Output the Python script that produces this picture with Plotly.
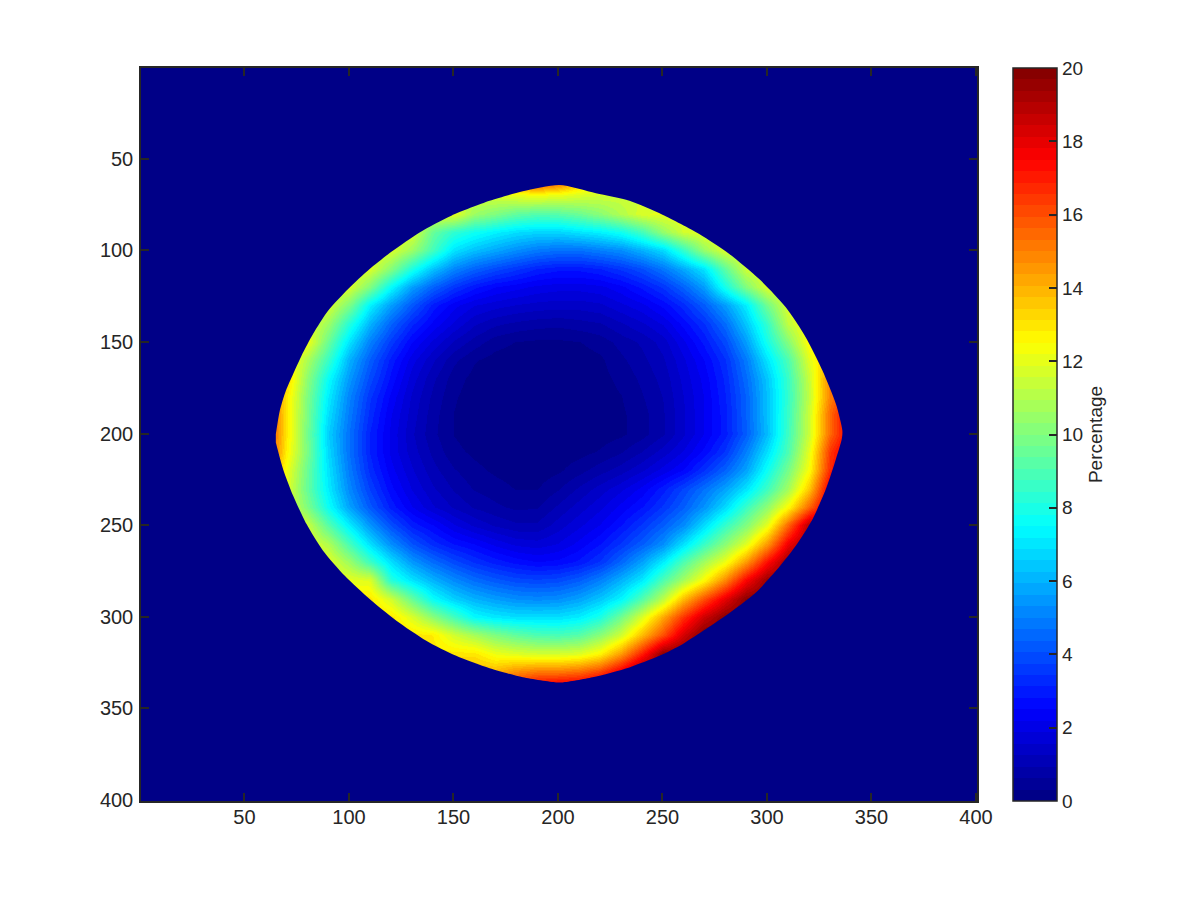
import plotly.graph_objects as go

# Values at a 10-unit spacing (percent); outside the outline each row carries its edge value on
x_samples = list(range(60, 350, 10))
y_samples = list(range(60, 350, 10))
z_rows = [
 [11.8,11.8,11.8,11.8,11.8,11.8,11.8,11.8,11.8,11.8,12.0,14.5,17,18,17,14.5,12.0,11.8,11.8,11.8,11.8,11.8,11.8,11.8,11.8,11.8,11.8,11.8,11.8],
 [11.5,11.5,11.5,11.5,11.5,11.5,11.5,11.5,11.5,11.5,11.6,11.8,12.1,12.3,12.1,11.8,11.6,11.5,11.5,11.5,11.5,11.5,11.5,11.5,11.5,11.5,11.5,11.5,11.5],
 [12,12,12,12,12,12,12,12,12,12,10.6,10,9.4,9.1,9.2,9.6,10.2,11,11.8,12,12,12,12,12,12,12,12,12,12],
 [12,12,12,12,12,12,12,11.8,9.5,8.4,7.8,7.3,6.9,6.7,6.7,7,7.3,7.8,8.8,10.4,11.6,12,12,12,12,12,12,12,12],
 [12,12,12,12,12,12,11.8,10.6,8.8,7,6.3,5.8,5.3,4.9,4.7,4.7,5,5.3,6,6.8,8.5,10.5,11.8,12,12,12,12,12,12],
 [12,12,12,12,12,11.8,10.1,8,6.3,5.1,4.4,3.9,3.5,3.1,2.9,2.9,3.1,3.5,4,4.8,5.8,7,9.3,11.5,12,12,12,12,12],
 [12,12,12,12,11.8,10,7.5,5.6,4.4,3.5,2.9,2.5,2.3,2.1,2,2,2.1,2.4,2.9,3.5,4.4,5.6,7.9,10,11.8,12,12,12,12],
 [12,12,12,11.8,10,7.3,5.6,4.2,3,2.3,1.9,1.7,1.55,1.45,1.4,1.4,1.5,1.8,2.1,2.6,3.3,4.3,5.6,7.2,9.7,11.8,12,12,12],
 [12,12,12,10.6,8.2,6,4.4,3.2,2.4,1.8,1.3,1,0.85,0.75,0.7,0.8,0.9,1.2,1.5,1.9,2.6,3.4,4.6,6.4,8.5,11.3,12.5,12.5,12.5],
 [12.3,12.3,12.3,9.6,7,5,3.6,2.5,1.8,1.2,0.8,0.45,0.3,0.25,0.25,0.3,0.45,0.75,1,1.4,2.1,2.9,3.9,5.6,7.9,10.1,12.6,13,13],
 [13,13,10.9,8.6,6,4.3,3,2,1.3,0.7,0.35,0.18,0.12,0.12,0.12,0.15,0.25,0.55,0.85,1.2,1.8,2.5,3.4,4.9,7,9,11.9,14,14],
 [14,13.5,10.3,7.6,5.5,3.9,2.7,1.7,1,0.45,0.2,0.1,0.1,0.1,0.1,0.12,0.2,0.4,0.7,1.05,1.65,2.3,3.2,4.6,6.4,8.6,11.4,15,15],
 [16,13,10,7.2,5.1,3.5,2.4,1.5,0.85,0.35,0.15,0.1,0.1,0.1,0.1,0.1,0.17,0.3,0.6,0.95,1.55,2.2,3.1,4.4,6.3,8.5,11.3,15,17],
 [17,13,9.9,6.9,4.9,3.3,2.2,1.4,0.75,0.3,0.12,0.1,0.1,0.1,0.1,0.1,0.13,0.25,0.5,0.9,1.5,2.2,3,4.4,6.3,8.6,11.5,15.5,18],
 [17,13,9.8,6.6,4.7,3.1,2.1,1.3,0.7,0.3,0.15,0.1,0.1,0.1,0.1,0.1,0.15,0.25,0.5,0.9,1.5,2.2,3,4.3,6.2,8.7,11.5,15.5,18],
 [17,12.8,9.9,6.8,4.7,3.1,2.1,1.4,0.85,0.4,0.25,0.15,0.1,0.1,0.12,0.2,0.35,0.6,0.95,1.4,1.9,2.6,3.5,5,6.9,9,12,16.5,18.5],
 [15.5,12.3,9.6,7,4.9,3.3,2.3,1.6,1.05,0.65,0.4,0.25,0.15,0.12,0.25,0.5,0.8,1.1,1.5,2,2.5,3.4,4.4,5.7,7.7,9.8,12.4,16.8,18.5],
 [13.5,12,9.5,7.2,5.2,3.7,2.6,1.85,1.3,0.9,0.6,0.45,0.3,0.3,0.6,1,1.4,1.8,2.3,3,3.8,4.7,5.7,7,8.7,10.7,13.6,18,18],
 [13,12,10,7.7,5.7,4.2,3,2.2,1.6,1.2,0.9,0.7,0.55,0.6,1,1.4,1.8,2.3,2.8,3.5,4.3,5.4,6.8,8.6,10.3,12.5,15.5,18.5,18.5],
 [12,12,11.5,9.2,7.2,5.4,4,3,2.5,1.9,1.5,1.2,1,1,1.4,1.8,2.2,2.8,3.5,4.3,5.2,6.8,8.5,10,12,15.5,19,19,19],
 [12,12,12,11,8.9,6.9,5.3,4.1,3.3,2.8,2.5,2.1,1.8,1.7,1.9,2.3,2.8,3.5,4.3,5.3,6.9,8.6,10.2,11.9,14.5,17.8,19.5,19.5,19.5],
 [12,12,12,12,10.6,8.7,6.9,5.5,4.6,3.9,3.4,3,2.7,2.5,2.6,2.9,3.5,4.5,5.7,7.2,9,10.7,12.2,14.5,17.3,19.5,19.5,19.5,19.5],
 [12,12,12,12,12,11.8,8.2,7,6,5.2,4.6,4.2,3.9,3.8,3.9,4.3,5,6,7.1,9,10.7,12.5,14.8,17.5,19.5,19.5,19.5,19.5,19.5],
 [13,13,13,13,13,13,11.6,9.5,7.6,6.6,6,5.6,5.3,5.2,5.3,5.7,6.4,7.4,9.1,11.2,13.8,16,18,19.8,20,20,20,20,20],
 [13,13,13,13,13,13,13,11.8,10.2,8.8,7.5,7.1,6.9,6.9,6.9,7.2,8,9.7,11.8,14.2,16.5,18.5,19.8,20,20,20,20,20,20],
 [13,13,13,13,13,13,13,13,12.8,11.6,10.8,10,9.4,9,8.9,9.2,10.2,11.6,13.8,16,18.3,20,20,20,20,20,20,20,20],
 [13,13,13,13,13,13,13,13,13,13,13,12.2,11.9,11.7,11.7,11.9,12.7,14.5,17,19.8,20,20,20,20,20,20,20,20,20],
 [14,14,14,14,14,14,14,14,14,14,14,14,14.8,15.2,15.2,15.5,16.3,18,20,20,20,20,20,20,20,20,20,20,20],
 [15,15,15,15,15,15,15,15,15,15,15,16,17.5,18.5,19,19,19.5,20,20,20,20,20,20,20,20,20,20,20,20],
]

# Outline of the non-zero region, clockwise on screen from the left tip
outline_x = [65,66.9,69.8,73.3,77.3,82.8,90,99.6,109.9,121,133.8,149,167.3,183.2,200.7,218.2,234.2,250,267.6,282,296.3,309,318.6,326.6,333,336.1,335.8,333,328.2,321.8,313.8,304.3,294.7,283.5,270.8,259.6,248.5,234.2,216.6,202.3,199.1,183.2,167.3,151.3,137,122.7,109.9,98,87.6,79.7,73.3,68.5,65]
outline_y = [200.3,187.5,176.6,167.5,157.5,145.7,133,121.1,110.2,100.2,90.2,81.1,73,67.8,64.4,68.9,73,80.6,91.1,102,115.7,131.1,147.5,165.7,183.9,198.5,203,213.9,230.3,246.7,261.2,274.9,286.7,296.7,306.7,314.9,321.3,327.6,333,335.8,335.8,333,328.1,321.3,313,302.1,290.3,277.6,263.9,249.4,233.9,219.4,204.8]

axis_ticks = [50, 100, 150, 200, 250, 300, 350, 400]
colorbar_ticks = [0, 2, 4, 6, 8, 10, 12, 14, 16, 18, 20]
colorbar_label = "Percentage"
z_min, z_max = 0, 20
axis_range = [0.5, 400.5]

INK = "#262626"
FONT = "Liberation Sans, Arial, Helvetica, sans-serif"


def jet_level(i, n=64):
    t = (i + 0.5) / n
    clip = lambda v: max(0.0, min(1.0, v))
    r = clip(min(4 * t - 1.5, -4 * t + 4.5))
    g = clip(min(4 * t - 0.5, -4 * t + 3.5))
    b = clip(min(4 * t + 0.5, -4 * t + 2.5))
    return f"rgb({round(r*255)},{round(g*255)},{round(b*255)})"


stepped_scale = []
for i in range(64):
    c = jet_level(i)
    stepped_scale.append([i / 64, c])
    stepped_scale.append([(i + 1) / 64, c])
FLOOR = jet_level(0)

lo, hi = axis_range
# Outer frame, then the outline wound the opposite way so that it stays open as a hole
mask_x = [lo, hi, hi, lo, lo, None] + outline_x[::-1]
mask_y = [lo, lo, hi, hi, lo, None] + outline_y[::-1]

fig = go.Figure()
fig.add_trace(go.Heatmap(
    x=x_samples, y=y_samples, z=z_rows, zmin=z_min, zmax=z_max,
    zsmooth="best", colorscale=stepped_scale,
    colorbar=dict(
        x=872 / 836, xanchor="left", xpad=0, ypad=0,
        y=0.5, yanchor="middle", len=1, lenmode="fraction",
        thickness=44, thicknessmode="pixels",
        outlinecolor=INK, outlinewidth=1.5,
        ticks="inside", ticklen=8, tickwidth=1.5, tickcolor=INK,
        tickvals=colorbar_ticks, ticktext=[str(v) for v in colorbar_ticks],
        tickfont=dict(family=FONT, size=19, color=INK),
        title=dict(text=colorbar_label, side="right",
                   font=dict(family=FONT, size=19, color=INK)),
    ),
))
fig.add_trace(go.Scatter(
    x=mask_x, y=mask_y, mode="lines", fill="toself", fillcolor=FLOOR,
    line=dict(width=0, color=FLOOR, shape="spline", smoothing=0.7),
    hoverinfo="skip", showlegend=False,
))

axis_common = dict(
    tickvals=axis_ticks, ticktext=[str(v) for v in axis_ticks],
    ticks="inside", ticklen=8, tickwidth=1.5, tickcolor=INK,
    showline=True, linecolor=INK, linewidth=1.5, mirror="ticks",
    showgrid=False, zeroline=False,
    tickfont=dict(family=FONT, size=20, color=INK),
)
fig.update_layout(
    width=1200, height=900,
    margin=dict(l=133, r=231, t=60, b=107),
    paper_bgcolor="white", plot_bgcolor=FLOOR,
    xaxis=dict(range=axis_range, ticklabelstandoff=-3, **axis_common),
    yaxis=dict(range=axis_range[::-1], ticklabelstandoff=2, **axis_common),
    showlegend=False,
)
fig.write_html("out.html")
